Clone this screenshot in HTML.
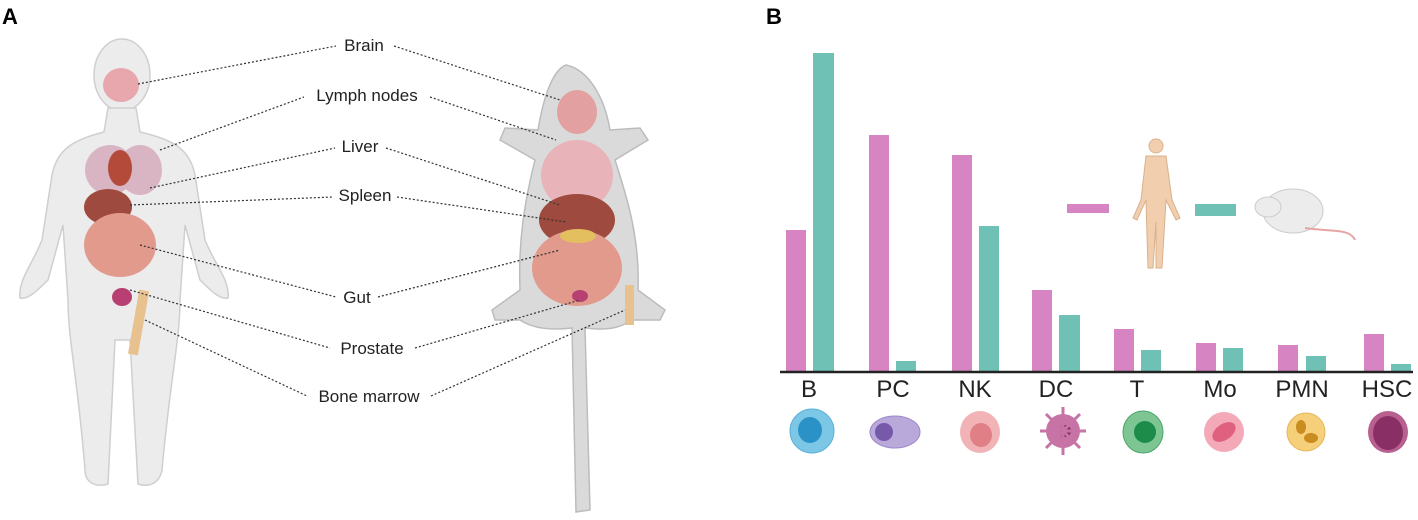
<!DOCTYPE html>
<html><head><meta charset="utf-8"><style>
body{margin:0;background:#fff;}
svg{display:block;font-family:"Liberation Sans",Arial,sans-serif;}
</style></head><body>
<svg width="1418" height="520" viewBox="0 0 1418 520">
<text x="2" y="24" font-size="22" font-weight="bold">A</text>
<text x="766" y="24" font-size="22" font-weight="bold">B</text>
<!-- human -->
<g fill="#ececec" stroke="#cfcfcf" stroke-width="1.5">
<ellipse cx="122" cy="75" rx="28" ry="36"/>
<path d="M108,108 L136,108 L140,132 C175,140 190,150 195,175 L205,240 C215,265 230,280 228,298 C220,300 210,290 200,280 L185,225 L180,300 C180,340 170,380 162,470 C160,482 150,488 138,484 L130,340 L115,340 L108,484 C95,488 85,482 85,470 C78,380 68,340 68,300 L63,225 L48,280 C38,290 28,300 20,298 C18,280 32,265 42,240 L52,175 C57,150 72,140 104,132 Z"/>
</g>
<ellipse cx="121" cy="85" rx="18" ry="17" fill="#e8a7ad"/>
<ellipse cx="110" cy="170" rx="25" ry="25" fill="#d9b5c4"/>
<ellipse cx="140" cy="170" rx="22" ry="25" fill="#d9b5c4"/>
<ellipse cx="120" cy="168" rx="12" ry="18" fill="#b34a3a"/>
<ellipse cx="108" cy="207" rx="24" ry="18" fill="#9e4a3e"/>
<ellipse cx="120" cy="245" rx="36" ry="32" fill="#e29a8d"/>
<ellipse cx="122" cy="297" rx="10" ry="9" fill="#b83f72"/>
<rect x="134" y="290" width="10" height="65" fill="#e7c28f" transform="rotate(10 139 320)"/>
<!-- mouse -->
<g fill="#dadada" stroke="#bcbcbc" stroke-width="1.5">
<path d="M566,65 C590,70 605,100 610,130 L640,128 L648,140 L615,160 C628,200 640,240 638,290 L665,310 L660,320 L630,320 C620,330 600,330 585,328 L590,510 L576,512 L572,328 C555,330 535,330 520,320 L495,320 L492,310 L520,290 C518,240 525,200 535,160 L500,140 L505,128 L538,130 C543,100 552,70 566,65 Z"/>
</g>
<ellipse cx="577" cy="112" rx="20" ry="22" fill="#e3a0a0"/>
<ellipse cx="577" cy="175" rx="36" ry="35" fill="#e8b3b9"/>
<ellipse cx="577" cy="220" rx="38" ry="26" fill="#9e4a3e"/>
<ellipse cx="577" cy="268" rx="45" ry="38" fill="#e29a8d"/>
<ellipse cx="578" cy="236" rx="18" ry="7" fill="#e3bf60"/>
<ellipse cx="580" cy="296" rx="8" ry="6" fill="#b83f72"/>
<rect x="625" y="285" width="9" height="40" fill="#e7c28f"/>
<!-- labels -->
<g font-size="17" text-anchor="middle" fill="#222">
<text x="364" y="51">Brain</text>
<text x="367" y="101">Lymph nodes</text>
<text x="360" y="152">Liver</text>
<text x="365" y="201">Spleen</text>
<text x="357" y="303">Gut</text>
<text x="372" y="354">Prostate</text>
<text x="369" y="402">Bone marrow</text>
</g>
<g stroke="#333" stroke-width="1.2" stroke-dasharray="2,2" fill="none">
<line x1="138" y1="84" x2="336" y2="46"/><line x1="394" y1="46" x2="560" y2="100"/>
<line x1="160" y1="150" x2="304" y2="97"/><line x1="430" y1="97" x2="556" y2="140"/>
<line x1="150" y1="188" x2="335" y2="148"/><line x1="386" y1="148" x2="560" y2="205"/>
<line x1="130" y1="205" x2="333" y2="197"/><line x1="397" y1="197" x2="566" y2="222"/>
<line x1="140" y1="245" x2="336" y2="297"/><line x1="378" y1="297" x2="560" y2="250"/>
<line x1="130" y1="290" x2="330" y2="348"/><line x1="415" y1="348" x2="580" y2="300"/>
<line x1="145" y1="320" x2="307" y2="396"/><line x1="431" y1="396" x2="625" y2="310"/>
</g>
<!-- bars -->
<g fill="#d684c2">
<rect x="786" y="230" width="20" height="141"/><rect x="869" y="135" width="20" height="236"/>
<rect x="952" y="155" width="20" height="216"/><rect x="1032" y="290" width="20" height="81"/>
<rect x="1114" y="329" width="20" height="42"/><rect x="1196" y="343" width="20" height="28"/>
<rect x="1278" y="345" width="20" height="26"/><rect x="1364" y="334" width="20" height="37"/>
<rect x="1067" y="204" width="42" height="9"/>
</g>
<g fill="#6fc0b5">
<rect x="813" y="53" width="21" height="318"/><rect x="896" y="361" width="20" height="10"/>
<rect x="979" y="226" width="20" height="145"/><rect x="1059" y="315" width="21" height="56"/>
<rect x="1141" y="350" width="20" height="21"/><rect x="1223" y="348" width="20" height="23"/>
<rect x="1306" y="356" width="20" height="15"/><rect x="1391" y="364" width="20" height="7"/>
<rect x="1195" y="204" width="41" height="12"/>
</g>
<line x1="780" y1="372" x2="1413" y2="372" stroke="#222" stroke-width="2.5"/>
<!-- legend figures -->
<g fill="#f1cfae" stroke="#d9b08a">
<circle cx="1156" cy="146" r="7"/>
<path d="M1146,156 L1166,156 L1172,200 L1180,218 L1176,220 L1166,200 L1162,268 L1156,268 L1156,222 L1153,268 L1148,268 L1146,200 L1137,220 L1133,218 L1141,200 Z"/>
</g>
<g fill="#ececec" stroke="#ccc">
<ellipse cx="1293" cy="211" rx="30" ry="22"/><ellipse cx="1268" cy="207" rx="13" ry="10"/>
</g>
<path d="M1305,228 C1330,232 1350,228 1355,240" stroke="#e6a5a5" stroke-width="2" fill="none"/>
<!-- category labels -->
<g font-size="24" text-anchor="middle" fill="#222">
<text x="809" y="397">B</text><text x="893" y="397">PC</text><text x="975" y="397">NK</text>
<text x="1056" y="397">DC</text><text x="1137" y="397">T</text><text x="1220" y="397">Mo</text>
<text x="1302" y="397">PMN</text><text x="1387" y="397">HSC</text>
</g>
<!-- cells -->
<ellipse cx="812" cy="431" rx="22" ry="22" fill="#7cc6e6" stroke="#5ab0d8"/><ellipse cx="810" cy="430" rx="12" ry="13" fill="#2a92c7"/>
<ellipse cx="895" cy="432" rx="25" ry="16" fill="#b9a8da" stroke="#9b88c8"/><circle cx="884" cy="432" r="9" fill="#7659a8"/>
<ellipse cx="980" cy="432" rx="20" ry="21" fill="#f2b3b7"/><ellipse cx="981" cy="435" rx="11" ry="12" fill="#e07f86"/>
<circle cx="1063" cy="431" r="17" fill="#c873a6"/><circle cx="1065" cy="431" r="6" fill="#8a2e6a"/>
<g stroke="#c873a6" stroke-width="3"><line x1="1063" y1="407" x2="1063" y2="455"/><line x1="1040" y1="431" x2="1086" y2="431"/><line x1="1046" y1="414" x2="1080" y2="448"/><line x1="1080" y1="414" x2="1046" y2="448"/></g>
<ellipse cx="1143" cy="432" rx="20" ry="21" fill="#7dc694" stroke="#4aa56a"/><ellipse cx="1145" cy="432" rx="11" ry="11" fill="#1d8c4a"/>
<circle cx="1224" cy="432" r="20" fill="#f4a9b9"/><ellipse cx="1224" cy="432" rx="13" ry="8" fill="#e0607f" transform="rotate(-35 1224 432)"/>
<circle cx="1306" cy="432" r="19" fill="#f5cf79" stroke="#e3b75a"/><ellipse cx="1301" cy="427" rx="5" ry="7" fill="#c98c1f"/><ellipse cx="1311" cy="438" rx="7" ry="5" fill="#c98c1f"/>
<ellipse cx="1388" cy="432" rx="20" ry="21" fill="#b8608f"/><ellipse cx="1388" cy="433" rx="15" ry="17" fill="#8a2f66"/>
</svg>
</body></html>
